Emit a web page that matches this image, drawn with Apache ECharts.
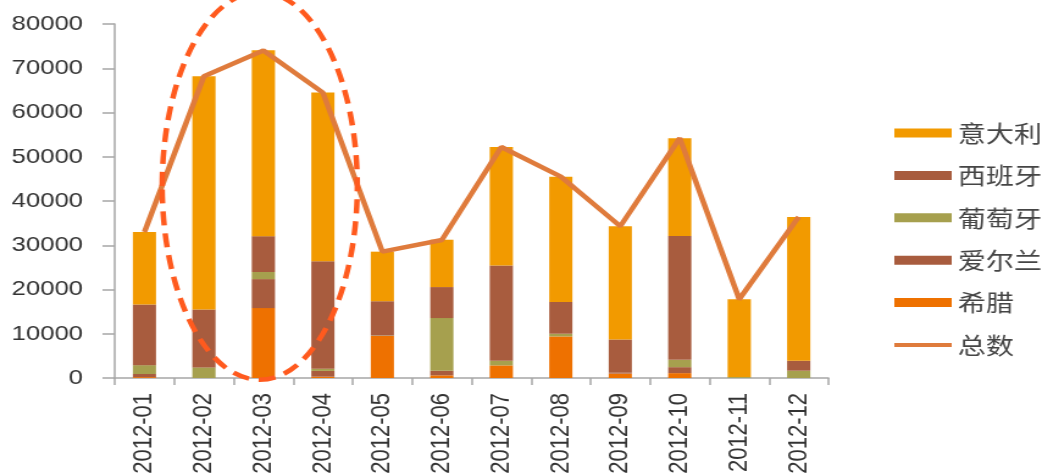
<!DOCTYPE html>
<html>
<head>
<meta charset="utf-8">
<script src="https://cdn.jsdelivr.net/npm/echarts@6/dist/echarts.min.js"></script>
<style>
  html, body { margin: 0; padding: 0; width: 1042px; height: 475px; overflow: hidden; background: #fff; }
  /* chart is laid out at a narrower width and widened horizontally */
  #chart { width: 854px; height: 475px; transform: scaleX(1.2201); transform-origin: 0 0; }
</style>
</head>
<body>
<div id="chart"></div>
<script>
const months = ['2012-01','2012-02','2012-03','2012-04','2012-05','2012-06','2012-07','2012-08','2012-09','2012-10','2012-11','2012-12'];
const yTicks = { min: 0, max: 80000, interval: 10000 };

// stacked from the bottom up
const greece   = [200, 0, 15800, 300, 9500, 600, 2850, 9400, 1000, 1100, 0, 0];
const ireland  = [700, 0, 6550, 1300, 0, 1050, 0, 0, 300, 1350, 0, 0];
const portugal = [2000, 2400, 1600, 500, 100, 11900, 1050, 600, 0, 1650, 200, 1650];
const spain    = [13700, 13100, 8100, 24300, 7750, 7000, 21500, 7200, 7400, 28000, 0, 2250];
const italy    = [16400, 52700, 42000, 38100, 11200, 10700, 26800, 28300, 25600, 22100, 17600, 32500];
const total    = [33000, 68200, 74000, 64500, 28550, 31200, 52200, 45500, 34300, 54200, 17800, 36400];

const legendOrder = ['意大利', '西班牙', '葡萄牙', '爱尔兰', '希腊', '总数'];

const chart = echarts.init(document.getElementById('chart'));

function barSeries(name, data, color) {
  return {
    name, type: 'bar', stack: 'debt', data,
    barWidth: 19,
    itemStyle: { color },
    emphasis: { disabled: true }
  };
}

chart.setOption({
  animation: false,
  grid: { left: 94, right: 175, top: 24, bottom: 97, containLabel: false, outerBoundsMode: 'none' },
  legend: {
    orient: 'vertical',
    left: 728,
    top: 116,
    itemWidth: 47,
    itemHeight: 9,
    itemGap: 18.4,
    symbolKeepAspect: true,
    textStyle: { fontFamily: 'Noto Sans CJK SC', fontSize: 23, color: '#454545', lineHeight: 24, padding: [0, 0, 0, 0] },
    data: legendOrder.map(n => n === '总数'
      ? { name: n, icon: 'path://M0,0 L50,0 L50,4 L0,4 Z' }
      : { name: n, icon: 'rect' })
  },
  xAxis: {
    type: 'category',
    data: months,
    axisLine: { lineStyle: { color: '#A6A6A6', width: 1.5 } },
    axisTick: { show: true, length: 7, lineStyle: { color: '#A6A6A6', width: 1.5 } },
    axisLabel: { rotate: 90, margin: 15, fontFamily: 'Liberation Sans', fontSize: 22, color: '#333' },
    splitLine: { show: false }
  },
  yAxis: {
    type: 'value',
    min: yTicks.min, max: yTicks.max, interval: yTicks.interval,
    axisLine: { show: true, lineStyle: { color: '#A6A6A6', width: 1.5 } },
    axisTick: { show: true, length: 10, inside: false, lineStyle: { color: '#A6A6A6', width: 1.5 } },
    axisLabel: { margin: 26, fontFamily: 'Liberation Sans', fontSize: 21, color: '#333', formatter: v => String(v) },
    splitLine: { show: false }
  },
  series: [
    barSeries('希腊', greece, '#EE7100'),
    barSeries('爱尔兰', ireland, '#A85C3E'),
    barSeries('葡萄牙', portugal, '#A6A04E'),
    barSeries('西班牙', spain, '#A85C3E'),
    barSeries('意大利', italy, '#F29A00'),
    {
      name: '总数', type: 'line', data: total,
      symbol: 'none',
      lineStyle: { color: '#DF7B3C', width: 4.5 },
      itemStyle: { color: '#DF7B3C' },
      z: 5,
      emphasis: { disabled: true }
    }
  ]
});

// dashed ellipse highlighting the February–April peak
const center = chart.convertToPixel({ xAxisIndex: 0, yAxisIndex: 0 }, ['2012-03', 43400]);
const ellipseTop = chart.convertToPixel({ yAxisIndex: 0 }, 43400 + 43800);
const febX = chart.convertToPixel({ xAxisIndex: 0 }, '2012-02');
const aprX = chart.convertToPixel({ xAxisIndex: 0 }, '2012-04');
const step = (aprX - febX) / 2;
chart.setOption({
  graphic: [{
    type: 'ellipse',
    z: 100,
    silent: true,
    shape: { cx: center[0] - 3, cy: center[1], rx: step * 1.64, ry: center[1] - ellipseTop },
    style: { fill: 'none', stroke: '#FF5A1E', lineWidth: 4.5, lineDash: [14, 8] }
  }]
});
</script>
</body>
</html>
